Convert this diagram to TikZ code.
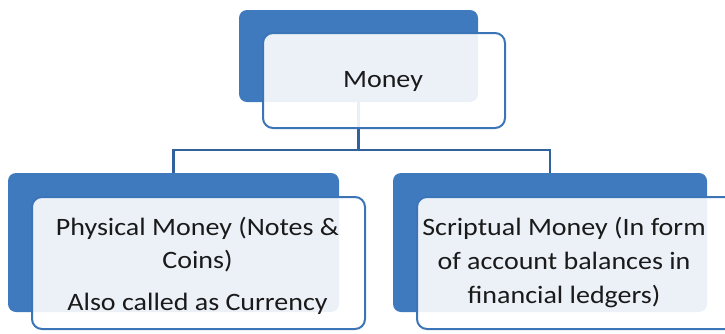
\documentclass[tikz,border=0pt]{standalone}
\usepackage{fontspec}
\setmainfont{Carlito}[FakeStretch=1.12]
\definecolor{backblue}{RGB}{64,122,190}
\definecolor{edgeblue}{RGB}{60,116,184}
\definecolor{linkblue}{RGB}{50,98,158}
\definecolor{txt}{RGB}{26,26,26}
\begin{document}
\begin{tikzpicture}[x=1pt,y=-1pt,
  backbox/.style={draw=none,fill=backblue,rounded corners=8pt,inner sep=0pt},
  frontbox/.style={draw=edgeblue,line width=2pt,fill=white,fill opacity=0.9,rounded corners=10pt,inner sep=0pt},
  link/.style={draw=linkblue,line width=2.5pt},
  label/.style={text=txt,font=\fontsize{25}{33}\selectfont,inner sep=0pt,anchor=base}]
\useasboundingbox (0,0) rectangle (725,333);
% back boxes
\node[backbox,minimum width=239pt,minimum height=92pt] (topback) at (358.5,56) {};
\node[backbox,minimum width=331pt,minimum height=139pt] (leftback) at (173.5,242.5) {};
\node[backbox,minimum width=314pt,minimum height=139pt] (rightback) at (550,242.5) {};
% connectors
\coordinate (hub) at (358.5,150);
\coordinate (hubL) at (173.5,150);
\coordinate (hubR) at (550,150);
\draw[link] (topback.south) -- (hub);
\draw[link,line cap=rect] (hubL) -- (hubR);
\draw[link] (hubL) -- (leftback.north);
\draw[link] (hubR) -- (rightback.north);
% front boxes
\node[frontbox,minimum width=242pt,minimum height=95pt] (topfront) at (384,80.5) {};
\node[frontbox,minimum width=333pt,minimum height=132pt] (leftfront) at (198.5,263) {};
\node[frontbox,minimum width=333pt,minimum height=132pt] (rightfront) at (583.5,263) {};
% texts
\node[label] (money) at (383,87) {Money};
\node[label] (phys1) at (197.5,235) {Physical Money (Notes \&};
\node[label] (phys2) at (197.5,268) {Coins)};
\node[label] (phys3) at (197.5,310) {Also called as Currency};
\node[label] (scr1) at (564,235) {Scriptual Money (In form};
\node[label] (scr2) at (564,269) {of account balances in};
\node[label] (scr3) at (564,303) {financial ledgers)};
\end{tikzpicture}
\end{document}
